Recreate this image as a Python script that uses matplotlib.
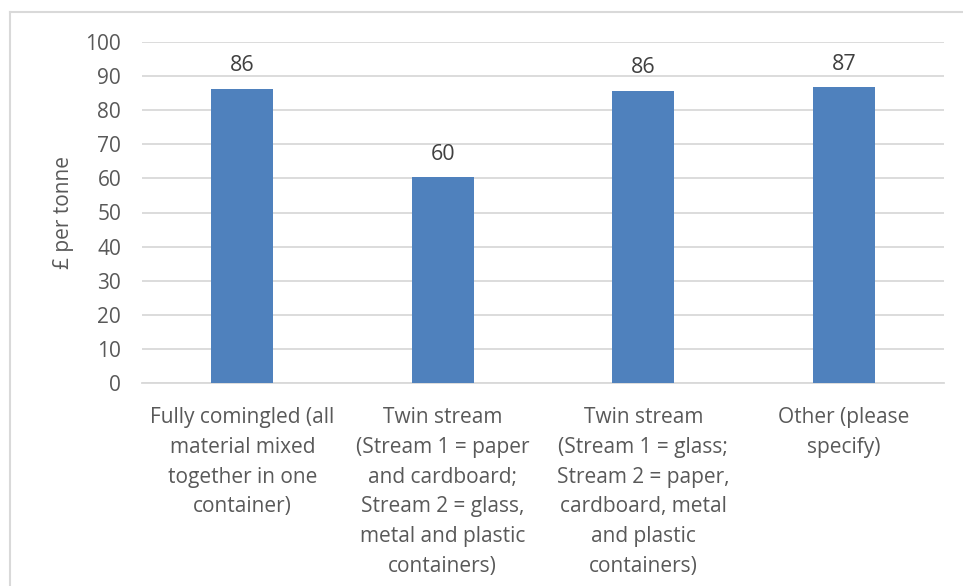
import matplotlib
matplotlib.use("Agg")
import matplotlib.pyplot as plt
from matplotlib.lines import Line2D

categories = [
    "Fully comingled (all\nmaterial mixed\ntogether in one\ncontainer)",
    "Twin stream\n(Stream 1 = paper\nand cardboard;\nStream 2 = glass,\nmetal and plastic\ncontainers)",
    "Twin stream\n(Stream 1 = glass;\nStream 2 = paper,\ncardboard, metal\nand plastic\ncontainers)",
    "Other (please\nspecify)",
]
values = [86.3, 60.4, 85.7, 86.8]
labels = ["86", "60", "86", "87"]
yticks = list(range(0, 101, 10))

plt.rcParams['font.family'] = ['Open Sans', 'DejaVu Sans']
text_color = '#595959'
grid_color = '#D9D9D9'
bar_color = '#4F81BD'
fs = 15

W, H = 963, 586
fig = plt.figure(figsize=(W / 100, H / 100), dpi=100)
ax = fig.add_axes([142 / W, 1 - 383 / H, (944 - 142) / W, (383 - 42) / H])

x = list(range(len(categories)))
bars = ax.bar(x, values, width=0.31, color=bar_color, zorder=3)
for b, lab in zip(bars, labels):
    ax.annotate(lab, (b.get_x() + b.get_width() / 2, b.get_height()),
                xytext=(0, 9), textcoords='offset points', ha='center', va='bottom',
                fontsize=fs + 0.5, color='#404040')

ax.set_xlim(-0.5, len(categories) - 0.5)
ax.set_ylim(0, 100)
ax.set_yticks(yticks)
ax.yaxis.grid(True, color=grid_color, linewidth=1.3, zorder=0)
ax.set_axisbelow(True)
for s in ['top', 'right', 'left']:
    ax.spines[s].set_visible(False)
ax.spines['bottom'].set_color(grid_color)
ax.spines['bottom'].set_linewidth(1.3)
ax.tick_params(axis='both', length=0, colors=text_color, labelsize=fs)
ax.tick_params(axis='y', pad=15)
ax.tick_params(axis='x', pad=17)
ax.set_xticks(x)
ax.set_xticklabels(categories, linespacing=1.56)
ax.set_ylabel("£ per tonne", fontsize=fs, color=text_color, labelpad=8)

# chart border (cut off at the right and bottom in the source)
fig.add_artist(Line2D([10 / W, 10 / W], [0, 1 - 12 / H], color=grid_color, linewidth=1.5))
fig.add_artist(Line2D([10 / W, 1], [1 - 12 / H, 1 - 12 / H], color=grid_color, linewidth=1.5))

fig.savefig("out.png", dpi=100, facecolor='white')
